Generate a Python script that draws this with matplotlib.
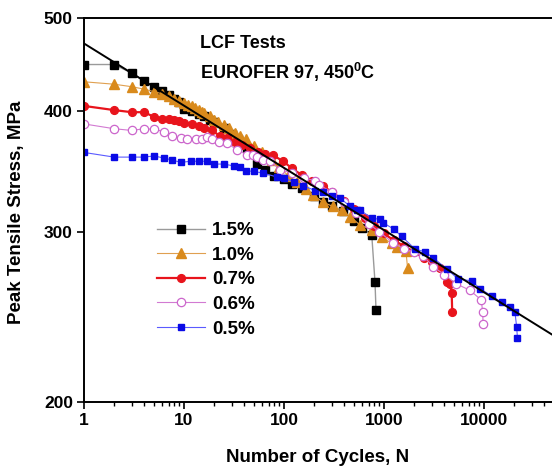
import matplotlib
matplotlib.use('Agg')
import matplotlib.pyplot as plt
from matplotlib import ticker

plt.rcParams['font.family'] = ['Liberation Sans', 'DejaVu Sans']
plt.rcParams['font.weight'] = 'bold'
plt.rcParams['mathtext.fontset'] = 'custom'
plt.rcParams['mathtext.rm'] = 'Liberation Sans:bold'
plt.rcParams['mathtext.bf'] = 'Liberation Sans:bold'

# peak tensile stress (MPa) vs cycles
n_15 = [1, 2, 3, 4, 5, 6, 7, 8, 9, 10, 12, 14, 16, 18, 20, 25, 30, 35, 43, 54,
        65, 80, 100, 120, 150, 200, 245, 300, 390, 500, 600, 754, 813, 832]
s_15 = [447, 447, 438, 430, 424, 420, 416, 412, 409, 402, 400, 397, 395, 392, 390,
        384, 379, 374, 366, 353, 348, 343, 340, 336, 333, 327, 322, 319, 315, 308,
        303, 298, 266, 249]

n_10 = [1, 2, 3, 4, 5, 6, 7, 8, 9, 10, 11, 12, 13, 14, 15, 16, 18, 20, 22, 25,
        28, 32, 36, 42, 50, 60, 75, 90, 110, 135, 165, 195, 245, 310, 380, 460,
        575, 750, 950, 1200, 1350, 1660, 1720]
s_10 = [429, 426.5, 424, 421.5, 419, 417, 415, 412, 410, 408, 406, 404.5, 403, 401,
        399.5, 398, 395, 392, 390, 387, 384, 380, 377, 374, 368, 363, 356, 350, 343,
        338, 332, 327.6, 322, 318.7, 316, 311, 305, 301.5, 296, 292, 289.7, 286.5, 275]

n_07 = [1, 2, 3, 4, 5, 6, 7, 8, 9, 10, 12, 14, 16, 19, 23, 27, 32, 38, 46, 55,
        65, 78, 98, 120, 150, 190, 246, 300, 400, 500, 650, 800, 990, 1250, 1600,
        2000, 2500, 3000, 3600, 4240, 4570, 4750, 4810]
s_07 = [405, 401, 399, 399, 394.6, 393, 393, 392, 391, 389, 388, 386, 384, 382, 377,
        375, 372, 369, 366, 363, 361, 360, 355, 349, 343.6, 339, 334.5, 330, 323,
        317, 310, 304, 299, 294, 290, 286, 282, 279, 275, 266.4, 265, 259.6, 248]

n_06 = [1, 2, 3, 4, 5, 6.3, 7.6, 9.3, 10.8, 13.1, 15.3, 17, 19, 22.4, 27, 34, 43,
        49, 54, 62, 73, 91, 120, 160, 204, 224, 300, 400, 530, 700, 900, 1240,
        1600, 2000, 2480, 3120, 4000, 5300, 7240, 9400, 9700, 9800]
s_06 = [388, 383.6, 382, 383.6, 383, 381, 377, 375, 374.6, 374, 374.6, 376, 374, 372,
        370.7, 364.6, 360.4, 360, 359, 356, 355, 348, 345, 341, 339, 335.5, 330,
        322, 314, 306, 300, 292, 288, 286, 283, 276, 271, 265, 261, 255, 247.6, 241]

n_05 = [1, 2, 3, 4, 5, 6.3, 7.6, 9.3, 11.7, 14, 17, 20, 25, 31.6, 36, 42, 50, 62,
        84.5, 100, 125, 156, 204, 246, 300, 363, 457, 534, 575, 754, 912, 985,
        1250, 1510, 2040, 2570, 3110, 4240, 5540, 7500, 9120, 11900, 15000, 18200,
        20400, 21200, 21600]
s_05 = [362.5, 358.5, 358.5, 358.5, 359.5, 357.7, 356, 354, 355, 355, 355, 352.6,
        352.6, 351, 350, 347, 346.5, 345, 342, 341, 338, 335, 331, 330, 327, 325,
        319, 316, 316, 310, 309, 306.5, 302, 296.7, 288, 286, 282, 274.6, 268, 267,
        262, 257.6, 253.6, 250.6, 247.6, 239.3, 232.9]

# power-law fit line end points
fit_n = [1, 100000]
fit_s = [470, 224]

x_ticks = [1, 10, 100, 1000, 10000, 100000]
x_labels = ['1', '10', '100', '1000', '10000', '']
y_ticks = [200, 300, 400, 500]

W, H = 552, 470
fig = plt.figure(figsize=(W / 100, H / 100), dpi=100)
ax = fig.add_axes([84 / W, 68 / H, 500 / W, 384.5 / H])

ax.plot(n_15, s_15, '-', color='#9a9a9a', lw=1.0, marker='s', ms=5.2,
        mfc='black', mec='black', label='1.5%')
ax.plot(n_10, s_10, '-', color='#e0a050', lw=0.8, marker='^', ms=6.5,
        mfc='#d98a1c', mec='#d98a1c', label='1.0%')
ax.plot(n_07, s_07, '-', color='#e8141c', lw=1.6, marker='o', ms=5.6,
        mfc='#e8141c', mec='#e8141c', label='0.7%')
ax.plot(n_06, s_06, '-', color='#d27ad2', lw=0.8, marker='o', ms=6,
        mfc='white', mec='#cc66cc', mew=0.9, label='0.6%')
ax.plot(n_05, s_05, '-', color='#5a5aff', lw=0.8, marker='s', ms=5,
        mfc='#0a0ae6', mec='#0a0ae6', label='0.5%')
ax.plot(fit_n, fit_s, '-', color='black', lw=1.4, zorder=5)

ax.set_xscale('log')
ax.set_yscale('log')
ax.set_xlim(1, 1e5)
ax.set_ylim(200, 500)

ax.xaxis.set_major_locator(ticker.FixedLocator(x_ticks))
ax.xaxis.set_major_formatter(ticker.FixedFormatter(x_labels))
ax.xaxis.set_minor_locator(ticker.LogLocator(base=10, subs=range(2, 10)))
ax.xaxis.set_minor_formatter(ticker.NullFormatter())
ax.yaxis.set_major_locator(ticker.FixedLocator(y_ticks))
ax.yaxis.set_major_formatter(ticker.FormatStrFormatter('%d'))
ax.yaxis.set_minor_locator(ticker.NullLocator())

ax.tick_params(axis='both', which='major', direction='out', length=5, width=1.2,
               labelsize=12.5, pad=3)
ax.tick_params(axis='x', which='minor', direction='out', length=3, width=1)
ax.spines['right'].set_visible(False)
for sp in ('left', 'bottom', 'top'):
    ax.spines[sp].set_linewidth(1.4)

fig.text(318 / W, 1 - 457 / H, 'Number of Cycles, N', ha='center', va='center',
         fontsize=13.5, fontweight='bold')
fig.text(17 / W, 1 - 212 / H, 'Peak Tensile Stress, MPa', ha='center', va='center',
         rotation=90, fontsize=13.5, fontweight='bold')

ax.text((200 - 84) / 500, (402 - 43) / 384.5, 'LCF Tests', transform=ax.transAxes,
        ha='left', va='center', fontsize=13, fontweight='bold')
ax.text((200 - 84) / 500, (402 - 72) / 384.5, r'EUROFER 97, 450$^{\mathbf{0}}$C',
        transform=ax.transAxes, ha='left', va='center', fontsize=13,
        fontweight='bold')

ax.legend(loc='upper left', bbox_to_anchor=(157 / W, 1 - 222 / H),
          bbox_transform=fig.transFigure, frameon=False, fontsize=13.5,
          handlelength=2.55, handletextpad=0.4, labelspacing=0.4,
          borderpad=0, borderaxespad=0)

fig.savefig('out.png', dpi=100)
